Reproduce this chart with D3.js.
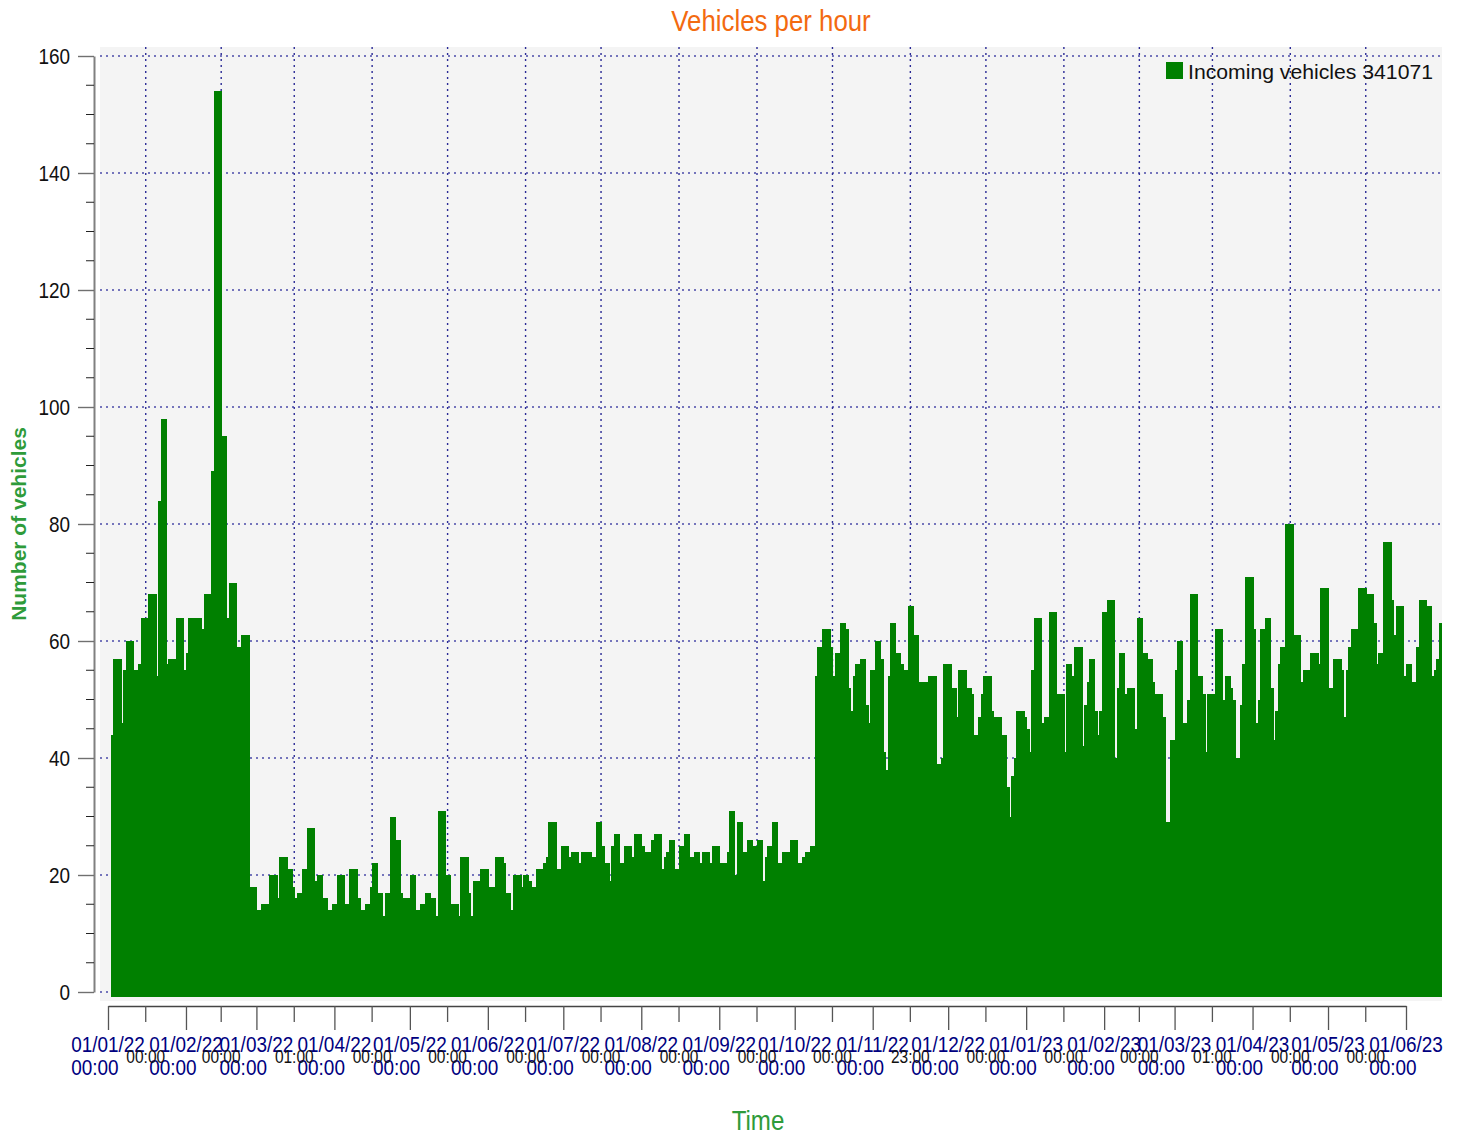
<!DOCTYPE html>
<html>
<head>
<meta charset="utf-8">
<title>Vehicles per hour</title>
<script src="https://cdn.jsdelivr.net/npm/d3@7"></script>
<style>
  body { margin: 0; background: #fff; }
  svg text { font-family: "Liberation Sans", Arial, sans-serif; }
</style>
</head>
<body>
<div id="chart"></div>
<script>
// daily peak of vehicles per hour, first value = 2022-01-02
const firstDay = "2022-01-02";
const vehicles = [
  44,57,57,57,46,55,60,60,60,55, 55,56,64,64,64,68,68,68,54,84,
  98,98,56,57,57,57,64,64,64,55, 58,64,64,64,64,64,62,68,68,68,
  89,154,154,154,95,95,64,70,70,70, 59,59,61,61,61,18,18,18,14,14,
  15,15,15,20,20,20,16,23,23,23, 21,21,18,16,17,17,21,21,28,28,
  28,19,20,20,16,16,14,14,15,15, 20,20,20,15,15,21,21,21,16,14,
  14,15,15,18,22,22,17,17,13,17, 17,30,30,26,26,17,16,16,16,20,
  20,14,14,15,15,17,17,16,16,13, 31,31,31,20,20,15,15,15,13,23,
  23,23,17,13,19,19,19,21,21,21, 18,18,18,23,23,23,22,17,17,14,
  20,20,20,18,20,20,19,18,18,21, 21,21,22,23,29,29,29,21,21,25,
  25,25,23,24,24,24,22,24,24,24, 24,23,23,29,29,25,22,22,19,25,
  27,27,22,22,25,25,25,23,27,27, 27,25,24,24,24,26,27,27,27,21,
  23,24,26,26,21,21,25,25,27,27, 23,23,24,24,22,24,24,24,22,25,
  25,25,22,22,22,24,31,31,20,29, 29,24,24,26,26,25,25,26,26,19,
  23,25,25,29,29,22,22,24,24,24, 26,26,26,22,22,23,24,24,25,25,
  54,59,59,62,62,62,59,54,58,58, 63,63,62,52,48,54,56,56,57,57,
  49,46,55,55,60,60,57,41,38,54, 63,63,58,58,56,55,55,66,66,61,
  61,53,53,53,53,54,54,54,39,39, 40,56,56,56,52,52,47,55,55,55,
  52,52,51,44,44,47,51,54,54,54, 48,47,47,47,44,44,35,30,37,40,
  48,48,48,47,45,41,55,64,64,64, 46,47,47,65,65,65,51,51,51,41,
  56,56,54,59,59,59,42,49,53,57, 57,48,44,48,65,65,67,67,67,40,
  52,58,58,51,52,52,52,45,64,64, 58,58,57,57,53,51,51,51,47,29,
  29,43,43,55,60,60,46,46,50,68, 68,68,54,54,51,41,51,51,51,62,
  62,62,50,54,54,52,50,40,40,49, 56,71,71,71,62,46,50,62,62,64,
  64,52,43,48,56,59,59,80,80,80, 61,61,61,53,55,55,55,58,58,58,
  56,69,69,69,52,52,57,57,57,55, 47,55,59,62,62,62,69,69,69,68,
  68,68,63,56,58,58,77,77,77,67, 61,66,66,66,54,56,56,53,53,59,
  67,67,67,66,66,54,55,57,63
];
const seriesName = "Incoming vehicles";
const seriesTotal = 341071;

const monthTicks = ["2022-01-01","2022-02-01","2022-03-01","2022-04-01","2022-05-01","2022-06-01",
  "2022-07-01","2022-08-01","2022-09-01","2022-10-01","2022-11-01","2022-12-01",
  "2023-01-01","2023-02-01","2023-03-01","2023-04-01","2023-05-01","2023-06-01"];
const midTicks = ["2022-01-16T00:00","2022-02-15T00:00","2022-03-16T01:00","2022-04-16T00:00",
  "2022-05-16T00:00","2022-06-16T00:00","2022-07-16T00:00","2022-08-16T00:00","2022-09-16T00:00",
  "2022-10-16T00:00","2022-11-15T23:00","2022-12-16T00:00","2023-01-16T00:00","2023-02-15T00:00",
  "2023-03-16T01:00","2023-04-16T00:00","2023-05-16T00:00"];
const yMajor = [0,20,40,60,80,100,120,140,160];
const yMinor = [5,10,15,25,30,35,45,50,55,65,70,75,85,90,95,105,110,115,125,130,135,145,150,155];

const W = 1461, H = 1137;
const plot = {left: 100, right: 1442, top: 47, bottom: 1001};
const SQ = 0.86; // glyphs in the picture are a bit narrow

const parseDay = d3.utcParse("%Y-%m-%d");
const parseTime = d3.utcParse("%Y-%m-%dT%H:%M");
const fmtDate = d3.utcFormat("%d/%m/%y");
const fmtHour = d3.utcFormat("%H:%M");

const x = d3.scaleUtc()
    .domain([parseDay("2022-01-01"), parseDay("2023-06-01")])
    .range([108, 1406]);
const y = d3.scaleLinear().domain([0, 160]).range([992, 56]);

const days = vehicles.map((v, i) => ({date: d3.utcDay.offset(parseDay(firstDay), i), v: v}));

const svg = d3.select('#chart').append('svg')
    .attr('width', W).attr('height', H);

function squeeze(sel, k) {
  sel.each(function() {
    const w = this.getComputedTextLength();
    this.setAttribute('textLength', w * k);
    this.setAttribute('lengthAdjust', 'spacingAndGlyphs');
  });
}

// plot background
svg.append('rect')
    .attr('x', plot.left).attr('y', plot.top)
    .attr('width', plot.right - plot.left).attr('height', plot.bottom - plot.top)
    .attr('fill', '#f4f4f4');

// grid
const grid = svg.append('g');
grid.selectAll('.hg').data(yMajor).enter().append('line')
    .attr('x1', plot.left).attr('x2', plot.right)
    .attr('y1', d => y(d)).attr('y2', d => y(d))
    .attr('stroke', '#4a4aa8').attr('stroke-width', 1.6)
    .attr('stroke-dasharray', '2,4');
grid.selectAll('.vg').data(midTicks).enter().append('line')
    .attr('x1', d => x(parseTime(d))).attr('x2', d => x(parseTime(d)))
    .attr('y1', plot.top).attr('y2', plot.bottom)
    .attr('stroke', '#2a2a96').attr('stroke-width', 1.4)
    .attr('stroke-dasharray', '2,4');

// bars (a touch wider than a day so neighbours join without seams)
svg.append('g').attr('shape-rendering', 'crispEdges')
  .selectAll('rect').data(days).enter().append('rect')
    .attr('x', d => x(d.date))
    .attr('width', d => x(d3.utcDay.offset(d.date, 1)) - x(d.date) + 1)
    .attr('y', d => y(d.v))
    .attr('height', d => y(-0.85) - y(d.v))
    .attr('fill', '#008000');

// y axis
const yAx = svg.append('g').attr('transform', 'translate(94,0)')
    .call(d3.axisLeft(y).tickValues(yMajor).tickSize(16).tickSizeOuter(0).tickPadding(8));
yAx.select('.domain').attr('stroke', '#808080').attr('stroke-width', 2);
yAx.selectAll('.tick line').attr('stroke', '#707070').attr('stroke-width', 1.4);
yAx.selectAll('.tick text').attr('font-size', 22).attr('fill', '#111')
    .attr('font-family', '"Liberation Sans", Arial, sans-serif').call(squeeze, SQ);
svg.append('g').selectAll('line').data(yMinor).enter().append('line')
    .attr('x1', 86).attr('x2', 94)
    .attr('y1', d => y(d)).attr('y2', d => y(d))
    .attr('stroke', '#222').attr('stroke-width', 1);

// x axis
const xAx = svg.append('g').attr('transform', 'translate(0,1006)')
    .call(d3.axisBottom(x).tickValues(monthTicks.map(parseDay)).tickSize(24)
        .tickSizeOuter(0).tickFormat(''));
xAx.select('.domain').attr('stroke', '#444').attr('stroke-width', 1.4);
xAx.selectAll('.tick line').attr('stroke', '#555').attr('stroke-width', 1.3);
svg.append('g').selectAll('line').data(midTicks).enter().append('line')
    .attr('x1', d => x(parseTime(d))).attr('x2', d => x(parseTime(d)))
    .attr('y1', 1006).attr('y2', 1022)
    .attr('stroke', '#555').attr('stroke-width', 1.3);

// month labels: date line centred, hour line aligned to its left edge
const mLab = svg.append('g').selectAll('g').data(monthTicks).enter().append('g');
mLab.each(function(d) {
  const g = d3.select(this), t = parseDay(d), cx = x(t);
  const l1 = g.append('text').text(fmtDate(t))
      .attr('font-size', 22).attr('fill', '#000080');
  const w = l1.node().getComputedTextLength() * SQ;
  l1.attr('textLength', w).attr('lengthAdjust', 'spacingAndGlyphs')
    .attr('x', cx - w / 2).attr('y', 1051.5);
  g.append('text').text(fmtHour(t))
      .attr('font-size', 22).attr('fill', '#000080')
      .attr('x', cx - w / 2).attr('y', 1075)
      .call(squeeze, SQ);
});
svg.append('g').selectAll('text').data(midTicks).enter().append('text')
    .text(d => fmtHour(parseTime(d)))
    .attr('font-size', 18).attr('fill', '#111')
    .call(squeeze, SQ)
    .attr('x', function(d) { return x(parseTime(d)) - this.getAttribute('textLength') / 2; })
    .attr('y', 1062.5);

// titles
svg.append('text').text('Vehicles per hour')
    .attr('font-size', 30).attr('fill', '#f36a10')
    .call(squeeze, SQ)
    .attr('x', function() { return 771 - this.getAttribute('textLength') / 2; })
    .attr('y', 31);
svg.append('text').text('Time')
    .attr('font-size', 28).attr('fill', '#2e9b3a')
    .call(squeeze, SQ)
    .attr('x', function() { return 758 - this.getAttribute('textLength') / 2; })
    .attr('y', 1130);
svg.append('text').text('Number of vehicles')
    .attr('font-size', 21).attr('font-weight', 'bold').attr('fill', '#2e9b3a')
    .attr('text-anchor', 'middle')
    .attr('transform', 'translate(26,524) rotate(-90)');

// legend
svg.append('rect').attr('x', 1166).attr('y', 62).attr('width', 17).attr('height', 17)
    .attr('fill', '#008000');
const legT = svg.append('text').text(seriesName + ' ' + seriesTotal)
    .attr('x', 1188).attr('y', 78.7)
    .attr('font-family', '"DejaVu Sans", Verdana, sans-serif')
    .attr('font-size', 20).attr('fill', '#111');
legT.attr('textLength', 245).attr('lengthAdjust', 'spacingAndGlyphs');
</script>
</body>
</html>
